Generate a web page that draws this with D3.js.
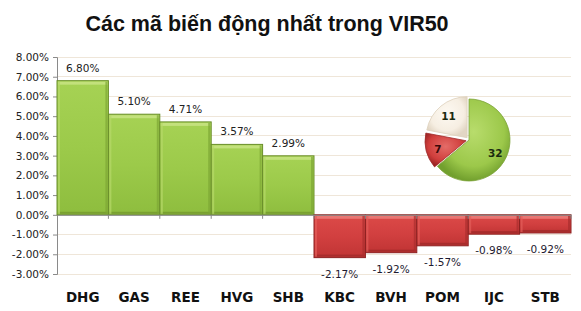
<!DOCTYPE html>
<html><head><meta charset="utf-8">
<script src="https://cdn.jsdelivr.net/npm/d3@7"></script>
<style>html,body{margin:0;padding:0;background:#fff;}svg{display:block;}</style>
</head><body>
<script>
const categories = ["DHG","GAS","REE","HVG","SHB","KBC","BVH","POM","IJC","STB"];
const values = [6.80, 5.10, 4.71, 3.57, 2.99, -2.17, -1.92, -1.57, -0.98, -0.92];
const valueLabels = ["6.80%","5.10%","4.71%","3.57%","2.99%","-2.17%","-1.92%","-1.57%","-0.98%","-0.92%"];
const yTicks = [8,7,6,5,4,3,2,1,0,-1,-2,-3];
const pieLabels = ["32","7","11"];
const pieValues = [32, 7, 11];
const title = "Các mã biến động nhất trong VIR50";

const W = 581, H = 311;
const svg = d3.select("body").append("svg").attr("width", W).attr("height", H);
const defs = svg.append("defs");

function vgrad(id, stops){
  const g = defs.append("linearGradient").attr("id", id).attr("x1",0).attr("y1",0).attr("x2",0).attr("y2",1);
  stops.forEach(s => g.append("stop").attr("offset", s[0]).attr("stop-color", s[1]));
}
vgrad("gBody", [[0,"#a6d254"],[0.5,"#9cca4a"],[1,"#8ebd3e"]]);
vgrad("rBody", [[0,"#dc4a48"],[0.5,"#d24040"],[1,"#c03434"]]);
function rgrad(id, stops){
  const g = defs.append("radialGradient").attr("id", id).attr("cx","50%").attr("cy","40%").attr("r","60%");
  stops.forEach(s => g.append("stop").attr("offset", s[0]).attr("stop-color", s[1]));
}
rgrad("pGreen", [[0,"#b8dc6c"],[0.7,"#9cc84a"],[1,"#72a02e"]]);
rgrad("pRed", [[0,"#e46c68"],[0.7,"#d03e3c"],[1,"#9a2424"]]);
rgrad("pCream", [[0,"#fdf9f2"],[0.7,"#f6eee2"],[1,"#e2d6c4"]]);

const pLeft = 57, pRight = 571, pTop = 57, pBottom = 274;
const x = d3.scaleBand().domain(categories).range([pLeft, pRight]).paddingInner(0).paddingOuter(0);
const y = d3.scaleLinear().domain([-3, 8]).range([pBottom, pTop]);

svg.append("text").attr("x", 267).attr("y", 31).attr("text-anchor","middle")
  .attr("font-family","Liberation Sans, Arial, sans-serif").attr("font-weight","bold")
  .attr("font-size", 21.5).attr("fill","#111").text(title);

svg.append("g").selectAll("line").data(yTicks).join("line")
  .attr("x1", pLeft).attr("x2", pRight).attr("y1", d => y(d)).attr("y2", d => y(d))
  .attr("stroke", "#efe6d9").attr("stroke-width", 1).attr("shape-rendering","crispEdges");

const yAxis = d3.axisLeft(y).tickValues(yTicks).tickSize(4).tickPadding(4)
  .tickFormat(d => d.toFixed(2) + "%");
const ya = svg.append("g").attr("transform", `translate(${pLeft},0)`).call(yAxis);
ya.select(".domain").attr("stroke","#8a8a8a");
ya.selectAll(".tick line").attr("stroke","#8a8a8a");
ya.selectAll("text").attr("font-family","DejaVu Sans, sans-serif").attr("font-size",10.5).attr("fill","#222");

const bars = svg.append("g");
categories.forEach((c, i) => {
  const v = values[i];
  const pos = v >= 0;
  const x0 = x(c), w = x.bandwidth();
  const y0 = y(Math.max(0, v)), h = Math.abs(y(v) - y(0));
  const g = bars.append("g");
  g.append("rect").attr("x", x0).attr("y", y0).attr("width", w).attr("height", h)
    .attr("fill", pos ? "url(#gBody)" : "url(#rBody)")
    .attr("stroke", pos ? "#6a8e2a" : "#8c2020").attr("stroke-width", 1);
  g.append("rect").attr("x", x0 + 1).attr("y", y0 + 1).attr("width", w - 2).attr("height", 3)
    .attr("fill", pos ? "#c8e484" : "#ec7e7a").attr("opacity", 0.85);
  g.append("rect").attr("x", x0 + 1).attr("y", y0 + h - 3).attr("width", w - 2).attr("height", 2)
    .attr("fill", pos ? "#74992e" : "#a02a2a").attr("opacity", 0.8);
  g.append("rect").attr("x", x0 + w - 3).attr("y", y0 + 1).attr("width", 2).attr("height", Math.max(0, h - 2))
    .attr("fill", pos ? "#7ea634" : "#aa2e2e").attr("opacity", 0.7);
  g.append("rect").attr("x", x0 + 1).attr("y", y0 + 1).attr("width", 2).attr("height", Math.max(0, h - 2))
    .attr("fill", pos ? "#b6d86a" : "#e25e5a").attr("opacity", 0.7);
  svg.append("text").attr("x", x0 + w / 2)
    .attr("y", pos ? y(v) - 9 : y(v) + 20)
    .attr("text-anchor","middle").attr("font-family","DejaVu Sans, sans-serif")
    .attr("font-size",10.5).attr("fill", pos ? "#222" : "#1e1a30").text(valueLabels[i]);
});

const xAxis = d3.axisBottom(x).tickSize(0).tickFormat("");
const xa = svg.append("g").attr("transform", `translate(0,${y(0)})`).call(xAxis);
xa.select(".domain").attr("stroke","#8a8a8a");
svg.append("g").selectAll("line").data(categories).join("line")
  .attr("x1", d => x(d) + x.bandwidth()).attr("x2", d => x(d) + x.bandwidth())
  .attr("y1", y(0)).attr("y2", y(0) + 4).attr("stroke","#8a8a8a");

svg.append("g").selectAll("text").data(categories).join("text")
  .attr("x", d => x(d) + x.bandwidth() / 2).attr("y", 302).attr("text-anchor","middle")
  .attr("font-family","DejaVu Sans, sans-serif").attr("font-weight","bold").attr("font-size",13.5)
  .attr("fill","#111").text(d => d);

const cx = 469, cy = 140, r = 41;
const pie = d3.pie().sort(null).value(d => d)(pieValues);
const arc = d3.arc().innerRadius(0).outerRadius(r);
const labelArc = d3.arc().innerRadius(29).outerRadius(29);
const fills = ["url(#pGreen)", "url(#pRed)", "url(#pCream)"];
const strokes = ["#7da33a", "#a02c2c", "#ddd0bc"];
const explode = [0, 3, 3];
const pg = svg.append("g").attr("transform", `translate(${cx},${cy})`);
pie.forEach((p, i) => {
  const mid = (p.startAngle + p.endAngle) / 2;
  const dx = Math.sin(mid) * explode[i], dy = -Math.cos(mid) * explode[i];
  pg.append("path").attr("d", arc(p)).attr("transform", `translate(${dx},${dy})`)
    .attr("fill", fills[i]).attr("stroke", strokes[i]).attr("stroke-width", 0.8);
  const c = labelArc.centroid(p);
  pg.append("text").attr("x", c[0] + dx).attr("y", c[1] + dy + 5).attr("text-anchor","middle")
    .attr("font-family","DejaVu Sans, sans-serif").attr("font-size",10.5).attr("font-weight","bold")
    .attr("fill", i === 1 ? "#3a0a0a" : "#1a2a10").text(pieLabels[i]);
});
</script>
</body></html>
